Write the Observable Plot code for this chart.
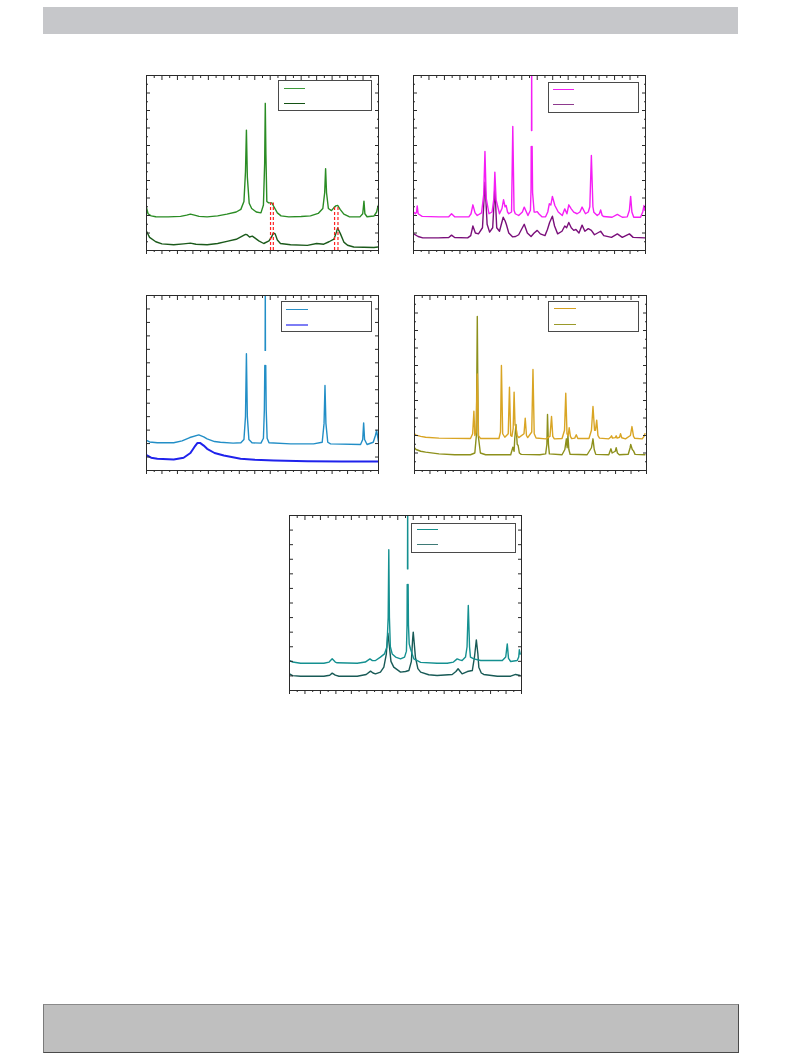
<!DOCTYPE html>
<html><head><meta charset="utf-8">
<script src="https://cdn.jsdelivr.net/npm/d3@7"></script>
<script src="https://cdn.jsdelivr.net/npm/@observablehq/plot@0.6"></script>
<style>
html,body{margin:0;padding:0;background:#fff}
body{width:793px;height:1057px;position:relative;overflow:hidden;font-family:"DejaVu Sans",sans-serif}
.hdr{position:absolute;left:43px;top:7px;width:695px;height:27px;background:#c6c7ca}
.ftr{position:absolute;left:43px;top:1004px;width:694px;height:47px;background:#bfbfbf;border:1px solid #4a4a4a;border-top-color:#8a8a8a;border-left-color:#7a7a7a}
.panel{position:absolute}
.panel svg{display:block;overflow:visible;background:transparent}
.legend{position:absolute;border:1.3px solid #4a4a4a;background:#fff;box-sizing:border-box}
.sw{position:absolute;height:0}
</style></head><body>
<div class="hdr"></div>
<div id="charts"></div>
<div class="ftr"></div>
<script>
// ---- tick values (2θ axis and intensity axis) ----
const xMajorTicks = [5,10,15,20,25,30,35,40,45,50,55,60,65,70,75,80];
const xMinorTicks = [7.5,12.5,17.5,22.5,27.5,32.5,37.5,42.5,47.5,52.5,57.5,62.5,67.5,72.5,77.5];
const yTicks10 = [0,1,2,3,4,5,6,7,8,9,10];
const yMinor10 = [0.5,1.5,2.5,3.5,4.5,5.5,6.5,7.5,8.5,9.5];
const yTicks13 = [0,1,2,3,4,5,6,7,8,9,10,11,12,13];
const yTicks12 = [0,1,2,3,4,5,6,7,8,9,10,11,12];

// ---- panel 1 (green) ----
const p1Upper = [[5,2.45],[5.5,2.1],[6.5,1.98],[8,1.93],[12,1.92],[16,1.95],[18,2.02],[19.2,2.08],[20.5,2.02],[22,1.95],[24.6,1.92],[28,1.98],[31,2.08],[34,2.2],[35.5,2.35],[36.5,2.8],[37,4.5],[37.3,6.88],[37.6,4.2],[38.2,2.7],[39,2.4],[40.5,2.2],[42,2.15],[42.8,2.6],[43.2,5],[43.4,8.41],[43.6,5.5],[43.9,2.8],[44.5,2.72],[45.5,2.72],[46.2,2.5],[47.3,2.15],[48.5,1.98],[51,1.92],[55,1.94],[58,1.98],[60.5,2.12],[62,2.4],[62.6,3.3],[62.9,4.67],[63.2,3.3],[63.8,2.4],[64.8,2.28],[65.6,2.45],[66.2,2.55],[66.8,2.58],[67.6,2.35],[68.8,2.08],[70.5,1.93],[74,1.92],[74.9,2.1],[75.3,2.82],[75.6,2.1],[76.3,1.93],[78.5,1.97],[79.4,2.2],[79.8,2.5],[80,2.6]];
const p1Lower = [[5,1.1],[6,0.75],[8,0.5],[10,0.38],[13.8,0.33],[17,0.38],[19.2,0.42],[21,0.36],[24.6,0.33],[28,0.4],[31,0.52],[34,0.64],[35.5,0.78],[37,0.92],[37.5,0.9],[38.3,0.77],[39.2,0.82],[40,0.72],[41.3,0.55],[42.9,0.4],[44.6,0.55],[45.5,0.8],[46.0,1.0],[46.6,0.95],[47.3,0.6],[48.3,0.4],[51.6,0.33],[57,0.29],[60,0.4],[62.3,0.36],[64,0.5],[65.6,0.65],[66.4,1.05],[66.8,1.29],[67.3,1.1],[67.7,0.95],[68.8,0.48],[70,0.3],[72,0.2],[78.5,0.17],[80,0.2]];
const p1Markers = [{x:45.1, top:2.72},{x:46.0, top:2.72},{x:65.8, top:2.5},{x:66.9, top:2.5}];

// ---- panel 2 (magenta / purple) ----
const p2Upper = [[5.1,2.19],[5.6,2.1],[6.0,2.2],[6.2,2.55],[6.5,2.1],[7.8,1.95],[13.2,1.92],[16.4,1.93],[17.3,2.1],[18.3,1.93],[22.9,1.92],[23.6,2.1],[24.2,2.61],[24.9,2.15],[25.6,2.0],[27.0,2.15],[27.7,3.2],[28.1,5.66],[28.5,3.0],[29.4,2.1],[30.4,2.2],[31.0,3.0],[31.3,4.48],[31.7,2.9],[32.8,2.1],[33.6,2.4],[34.1,2.9],[34.6,2.5],[34.96,2.57],[35.4,2.2],[35.8,2.1],[36.7,2.2],[37.1,7.09],[37.5,2.3],[37.9,2.1],[39.0,2.0],[40.2,2.2],[40.8,2.48],[41.5,2.2],[42.0,2.0],[42.8,2.3],[43.0,3.5],[43.05,5.94],[43.1,NaN],[43.15,6.86],[43.2,11],[43.25,6.86],[43.3,NaN],[43.35,5.94],[43.5,3.3],[44.0,2.2],[44.4,2.19],[45.0,2.22],[45.5,2.1],[46.6,1.92],[47.7,1.93],[48.4,2.2],[48.9,2.67],[49.4,2.6],[49.9,3.09],[50.7,2.57],[51.8,2.2],[53.1,2.0],[53.9,2.38],[54.6,2.1],[55.2,2.61],[56.0,2.38],[56.8,2.19],[57.9,2.1],[58.8,2.2],[59.5,2.48],[60.6,2.1],[61.5,2.2],[62.0,2.5],[62.5,5.43],[63.0,2.5],[63.3,2.19],[64.4,2.0],[65.1,2.1],[65.5,2.32],[66.0,2.0],[66.5,1.94],[69.2,1.9],[70.9,2.06],[72.5,1.9],[74.1,1.92],[74.8,2.3],[75.2,3.09],[75.6,2.2],[76.2,1.9],[78.4,1.9],[79.1,2.2],[79.5,2.57],[79.8,2.3]];
const p2Lower = [[5.1,0.95],[6.5,0.8],[8,0.72],[13,0.72],[16.4,0.74],[17.3,0.88],[18.3,0.74],[22.5,0.72],[23.5,0.85],[24.2,1.4],[25.0,1.0],[26,0.95],[27.3,1.3],[28.1,3.9],[28.8,1.5],[29.6,1.05],[30.6,1.3],[31.3,3.6],[31.9,1.3],[32.8,1.1],[34.0,1.9],[34.6,1.7],[35,1.5],[35.8,1.0],[37,0.78],[38,0.8],[39,0.9],[40.8,1.5],[41.8,1.0],[43,0.8],[44,1.0],[45,1.15],[46,0.95],[47.5,0.85],[48.3,1.2],[49,1.6],[49.9,1.96],[50.6,1.4],[51.6,0.95],[53,1.1],[53.9,1.4],[54.5,1.3],[55.2,1.6],[56,1.3],[56.8,1.15],[57.5,1.2],[58.5,1.0],[59.5,1.45],[60.4,1.1],[61.5,1.25],[62.5,1.15],[63.5,0.9],[65.5,1.1],[66.5,0.85],[69,0.75],[70.9,0.95],[72.5,0.75],[74.8,0.95],[76,0.75],[79.8,0.72]];

// ---- panel 3 (blue) ----
const p3Upper = [[5,2.23],[6,2.12],[8.5,2.06],[13.8,2.06],[16.5,2.2],[19,2.45],[21.9,2.65],[23.5,2.5],[24.6,2.35],[27,2.15],[28.9,2.1],[33,2.03],[35.5,2.06],[36.5,2.3],[37.0,4.0],[37.3,8.67],[37.6,4.0],[38.1,2.3],[39.1,2.06],[42.0,2.03],[42.8,2.4],[43.1,4.5],[43.25,7.8],[43.3,NaN],[43.35,8.92],[43.4,14],[43.45,8.92],[43.5,NaN],[43.55,7.8],[43.7,4.5],[44.0,2.4],[44.6,2.06],[51.6,1.98],[59,1.98],[61.8,2.1],[62.4,3.5],[62.7,6.32],[63.0,3.5],[63.6,2.1],[64.5,1.98],[74.2,1.93],[74.9,2.3],[75.2,3.54],[75.5,2.3],[76.3,1.93],[78.3,2.1],[79.0,2.6],[79.4,2.97],[79.8,2.4],[80,2.1]];
const p3Lower = [[5,1.15],[6.5,0.95],[8.5,0.87],[13.8,0.82],[17,0.95],[19.2,1.3],[20.5,1.75],[21.5,2.05],[22.3,2.05],[23.5,1.85],[24.6,1.61],[27,1.3],[30,1.11],[35.4,0.87],[40,0.8],[46.2,0.74],[57,0.69],[68,0.67],[80,0.66]];

// ---- panel 4 (gold / olive) ----
const p4Upper = [[5,2.1],[5.5,2.02],[7,1.95],[8.6,1.9],[12.9,1.85],[23.1,1.83],[23.8,2.1],[24.2,3.39],[24.5,2.0],[24.9,2.2],[25.3,5.52],[25.7,2.0],[26.3,1.83],[32.3,1.83],[32.8,2.2],[33.1,6.0],[33.5,2.1],[34.2,1.9],[35.3,2.1],[35.7,4.76],[36.1,2.0],[36.5,1.95],[36.9,2.4],[37.2,4.48],[37.5,2.6],[37.8,2.5],[38.2,2.0],[38.7,1.88],[40.4,2.1],[40.8,2.99],[41.2,2.0],[41.6,1.88],[42.9,2.2],[43.3,5.77],[43.7,2.1],[44.3,1.86],[47.4,1.81],[48.8,1.95],[49.3,3.09],[49.7,1.95],[50.2,1.81],[52.7,1.83],[53.5,2.3],[53.9,4.42],[54.3,2.1],[54.7,2.0],[55.0,2.44],[55.4,1.95],[55.8,1.82],[56.8,1.85],[57.3,2.04],[57.8,1.83],[61.4,1.83],[62.2,2.3],[62.7,3.66],[63.2,2.3],[63.5,2.3],[63.9,2.88],[64.3,2.0],[64.8,1.85],[67.8,1.81],[68.4,1.9],[68.7,1.98],[69.0,1.85],[69.9,1.88],[70.2,1.98],[70.5,1.85],[71.3,1.9],[71.6,2.1],[72.0,1.87],[73.2,1.81],[74.8,2.0],[75.3,2.51],[75.8,1.95],[76.2,1.84],[78.6,1.81],[79.2,1.95],[79.5,2.1]];
const p4Lower = [[5,1.3],[5.5,1.2],[7,1.1],[8.6,1.05],[12.9,0.95],[18,0.9],[23.1,0.9],[24.5,1.0],[25.0,2.0],[25.3,8.8],[25.6,2.0],[26.3,1.0],[28,0.9],[36.1,0.9],[36.8,1.33],[37.2,1.1],[37.4,1.8],[37.8,2.63],[38.2,1.5],[38.5,1.43],[38.9,1.0],[39.5,0.92],[45.5,0.9],[47.4,0.95],[47.8,1.5],[48.0,3.2],[48.3,1.5],[48.6,0.95],[52.7,0.9],[53.6,1.2],[54.1,1.81],[54.35,1.3],[54.6,2.0],[54.9,1.2],[55.3,0.93],[60.8,0.9],[62.2,1.3],[62.7,1.81],[63.1,1.2],[63.6,0.92],[67.8,0.9],[68.5,1.24],[68.9,1.0],[69.9,1.1],[70.2,1.3],[70.6,1.0],[71.2,0.9],[74.1,0.93],[74.7,1.3],[74.9,1.49],[75.4,1.2],[75.8,1.12],[76.3,0.92],[79.5,0.9]];

// ---- panel 5 (teal) ----
const p5Upper = [[5,2.06],[6,1.95],[8.6,1.87],[16.1,1.87],[17.8,1.95],[18.8,2.17],[19.8,1.95],[20.4,1.9],[26.9,1.87],[29.5,1.95],[31.0,2.17],[31.8,2.05],[32.8,2.06],[34.4,2.29],[35.7,2.51],[36.5,3.0],[36.9,5.0],[37.1,9.65],[37.3,5.0],[37.6,3.0],[38.2,2.51],[39.3,2.29],[40.9,2.17],[42.2,2.29],[42.8,2.7],[43.0,4.5],[43.05,7.27],[43.1,NaN],[43.15,8.34],[43.2,13],[43.25,8.34],[43.3,NaN],[43.35,7.27],[43.45,4.5],[43.7,3.2],[44.1,2.86],[45.2,2.17],[47.4,1.93],[52.7,1.87],[56,1.87],[58.0,1.95],[59.2,2.17],[60.0,2.1],[60.8,2.06],[61.9,2.29],[62.4,3.0],[62.8,5.83],[63.2,3.0],[63.5,2.29],[64.6,2.17],[66.8,2.06],[72.2,2.06],[73.8,2.06],[74.9,2.3],[75.4,3.2],[75.8,2.2],[76.5,1.99],[78.6,2.06],[79.1,2.3],[79.3,2.79],[79.6,2.5]];
const p5Lower = [[5,1.14],[6,1.02],[8.6,0.98],[16.1,0.98],[18.0,1.05],[18.8,1.19],[19.8,1.05],[21,0.98],[26.9,0.98],[29.8,1.1],[31.2,1.33],[32.0,1.2],[32.8,1.14],[34.4,1.26],[35.5,1.6],[36.3,2.5],[36.8,3.93],[37.3,3.0],[37.8,2.0],[38.7,1.6],[40.9,1.26],[42.5,1.3],[43.6,1.37],[44.4,2.0],[44.8,3.5],[45.0,4.0],[45.3,3.3],[45.7,2.29],[46.5,1.5],[47.4,1.26],[50,1.08],[52.7,1.03],[57.6,1.1],[58.8,1.3],[59.5,1.49],[60.2,1.3],[60.8,1.14],[62.5,1.3],[64.1,1.37],[64.8,2.3],[65.4,3.47],[65.9,2.5],[66.2,1.6],[67.0,1.2],[67.8,1.1],[72.2,0.98],[76.5,0.98],[78.1,1.1],[79.5,1.03]];

// ---- panel layout / style ----
const panels = [
  {left:146, top:75, yTicks:yTicks10, yMinor:yMinor10, ymax:10, upper:p1Upper, lower:p1Lower, c1:"#2a8c24", c2:"#1b5a1b", w2:1.4, lc1:"#3d9a3a", lc2:"#145214", markers:p1Markers,
   legend:{l:131.5, t:5, w:94.5, h:31, sx:5, sw:21, y1:6.5, y2:22}},
  {left:413, top:75, yTicks:yTicks10, yMinor:yMinor10, ymax:10, upper:p2Upper, lower:p2Lower, c1:"#f51ef5", c2:"#7a0f7a", w2:1.4, lc1:"#f21ff2", lc2:"#8e3a8e",
   legend:{l:134.5, t:6.5, w:91, h:31, sx:4, sw:21, y1:6, y2:21.5}},
  {left:146, top:295, yTicks:yTicks13, yMinor:[], ymax:13, upper:p3Upper, lower:p3Lower, c1:"#228ec6", c2:"#1f22ec", w2:2.0, lc1:"#2a90c8", lc2:"#7d7df5",
   legend:{l:134.5, t:6, w:91, h:31, sx:4.5, sw:21.5, y1:6.5, y2:21.5}},
  {left:414, top:295, yTicks:yTicks10, yMinor:yMinor10, ymax:10, upper:p4Upper, lower:p4Lower, c1:"#d9a524", c2:"#8d901c", w2:1.4, lc1:"#d4a020", lc2:"#9a9a2a",
   legend:{l:134, t:6, w:90.5, h:30.5, sx:4.5, sw:22, y1:5.5, y2:21.5}},
  {left:289, top:515, yTicks:yTicks12, yMinor:[], ymax:12, upper:p5Upper, lower:p5Lower, c1:"#149090", c2:"#185a56", w2:1.4, lc1:"#158f8c", lc2:"#3e7a76",
   legend:{l:122, t:7.5, w:104.5, h:30, sx:5, sw:21, y1:5.5, y2:20.5}}
];

const M = {l:5, r:5, t:5, b:9};
const FW = 232, FH = 175;
const host = document.getElementById("charts");

for (const p of panels) {
  const tickStyle = {fill:"none", label:null, stroke:"#2a2a2a", strokeWidth:1};
  const marks = [
    Plot.line(p.lower, {x:d=>d[0], y:d=>d[1], stroke:p.c2, strokeWidth:p.w2, clip:true}),
    Plot.line(p.upper, {x:d=>d[0], y:d=>d[1], stroke:p.c1, strokeWidth:1.4, clip:true})
  ];
  if (p.markers) {
    marks.push(Plot.ruleX(p.markers, {x:"x", y1:0, y2:"top", stroke:"#ff2020", strokeWidth:1.2, strokeDasharray:"3,2"}));
  }
  marks.push(
    Plot.frame({stroke:"#2a2a2a", strokeWidth:1}),
    Plot.axisX(xMajorTicks, {anchor:"bottom", tickSize:4, ...tickStyle}),
    Plot.axisX(xMinorTicks, {anchor:"bottom", tickSize:2, ...tickStyle}),
    Plot.axisX(xMajorTicks, {anchor:"top", tickSize:-4, ...tickStyle}),
    Plot.axisX(xMinorTicks, {anchor:"top", tickSize:-2, ...tickStyle}),
    Plot.axisY(p.yTicks, {anchor:"left", tickSize:-4, ...tickStyle}),
    Plot.axisY(p.yTicks, {anchor:"right", tickSize:-4, ...tickStyle})
  );
  if (p.yMinor.length) {
    marks.push(
      Plot.axisY(p.yMinor, {anchor:"left", tickSize:-2, ...tickStyle}),
      Plot.axisY(p.yMinor, {anchor:"right", tickSize:-2, ...tickStyle})
    );
  }
  const svg = Plot.plot({
    width: FW + M.l + M.r, height: FH + M.t + M.b,
    marginLeft:M.l, marginRight:M.r, marginTop:M.t, marginBottom:M.b,
    x:{domain:[5,80]}, y:{domain:[0,p.ymax]},
    style:{background:"transparent", overflow:"visible"},
    marks
  });
  const div = document.createElement("div");
  div.className = "panel";
  div.style.left = (p.left - M.l) + "px";
  div.style.top = (p.top - M.t) + "px";
  div.appendChild(svg);
  const lg = document.createElement("div");
  lg.className = "legend";
  lg.style.left = (M.l + p.legend.l) + "px";
  lg.style.top = (M.t + p.legend.t) + "px";
  lg.style.width = p.legend.w + "px";
  lg.style.height = p.legend.h + "px";
  for (const [yy, col, w] of [[p.legend.y1, p.lc1, 1.5], [p.legend.y2, p.lc2, p.w2 > 1.5 ? 2.6 : 1.5]]) {
    const s = document.createElement("div");
    s.className = "sw";
    s.style.left = p.legend.sx + "px";
    s.style.top = yy + "px";
    s.style.width = p.legend.sw + "px";
    s.style.borderTop = w + "px solid " + col;
    lg.appendChild(s);
  }
  div.appendChild(lg);
  host.appendChild(div);
}
</script>
</body></html>
